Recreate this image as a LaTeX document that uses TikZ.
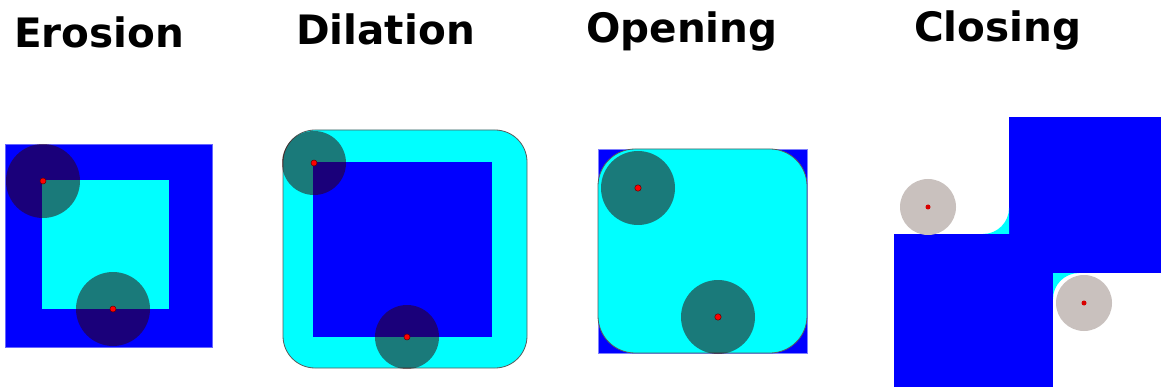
\documentclass[tikz,border=0pt]{standalone}
\usepackage{fontspec}
\setmainfont{DejaVu Sans}
\definecolor{sqblue}{RGB}{0,0,255}
\definecolor{sqcyan}{RGB}{0,255,255}
\definecolor{selem}{RGB}{50,0,0}
\definecolor{selgray}{RGB}{201,193,190}
\definecolor{edgegray}{RGB}{90,90,90}
\tikzset{
  title/.style={anchor=base west, inner sep=0pt, font=\fontsize{40.5}{48}\selectfont\bfseries},
  selt/.style={fill=selem, fill opacity=0.52},
  selg/.style={fill=selgray},
  dot/.style={fill=red, draw=black!60!red, line width=0.5pt},
  dotc/.style={fill=red!85!black},
}
\begin{document}
\begin{tikzpicture}[x=1pt,y=-1pt]
\useasboundingbox[fill=white] (0,0) rectangle (1161,387);
% titles
\node[title] (terosion) at (14,48) {Erosion};
\node[title] (tdilation) at (296,45) {Dilation};
\node[title] (topening) at (586,43) {Opening};
\node[title] (tclosing) at (914,42) {Closing};

% Erosion
\fill[sqblue, draw=sqblue!60!white, line width=0.6pt] (5,144) rectangle (212,347);
\fill[sqcyan] (42,180) rectangle (169,309);
\fill[selt] (43,181) circle (37);
\fill[selt] (113,309) circle (37);
\fill[dot] (43,181) circle (3);
\fill[dot] (113,309) circle (3);

% Dilation
\filldraw[fill=sqcyan, draw=edgegray, line width=0.8pt, rounded corners=32pt] (283,130) rectangle (527,368);
\fill[sqblue] (313,162) rectangle (492,337);
\fill[selt] (314,163) circle (32);
\fill[selt] (407,337) circle (32);
\fill[dot] (314,163) circle (3);
\fill[dot] (407,337) circle (3);

% Opening
\fill[sqblue, draw=sqblue!50!white, line width=0.6pt] (598,149) rectangle (807,353);
\filldraw[fill=sqcyan, draw=edgegray, line width=0.8pt, rounded corners=37pt] (598,149) rectangle (807,353);
\fill[selt] (638,188) circle (37);
\fill[selt] (718,317) circle (37);
\fill[dot] (638,188) circle (3.2);
\fill[dot] (718,317) circle (3.2);

% Closing
\fill[sqblue] (894,234) rectangle (1053,387);
\fill[sqblue] (1009,117) rectangle (1161,273);
\fill[sqblue] (1009,234) rectangle (1053,273);
\fill[sqcyan] (1009,234) -- (983,234) arc[start angle=90, end angle=0, radius=26] -- cycle;
\fill[sqcyan] (1053,273) -- (1079,273) arc[start angle=270, end angle=180, radius=26] -- cycle;
\fill[selg] (928,207) circle (28);
\fill[selg] (1084,303) circle (28);
\fill[dotc] (928,207) circle (2.5);
\fill[dotc] (1084,303) circle (2.5);
\end{tikzpicture}
\end{document}
